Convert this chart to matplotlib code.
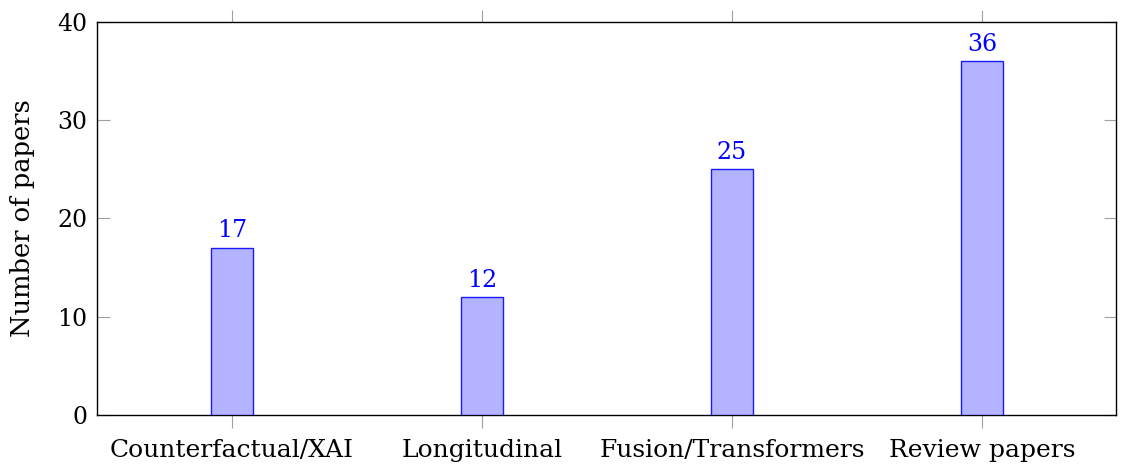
import matplotlib
matplotlib.use("Agg")
import matplotlib.pyplot as plt
import numpy as np

categories = ["Counterfactual/XAI", "Longitudinal", "Fusion/Transformers", "Review papers"]
values = [17, 12, 25, 36]
yticks = [0, 10, 20, 30, 40]

plt.rcParams['font.family'] = ['DejaVu Serif']

fig = plt.figure(figsize=(11.27, 4.74), dpi=100)
ax = fig.add_axes([0.0861, 0.1245, 0.9041, 0.8291])

x = np.arange(len(categories))
bars = ax.bar(x, values, width=0.168, color='#b3b3ff', edgecolor='#1a1aff', linewidth=1.0, zorder=3)
for xi, v in zip(x, values):
    ax.annotate(str(v), (xi, v), xytext=(0, 4), textcoords='offset points',
                ha='center', va='bottom', color='#0000ff', fontsize=17)

ax.set_xlim(-0.54, 3.536)
ax.set_ylim(0, 40)
ax.set_yticks(yticks)
ax.set_xticks(x)
ax.set_xticklabels(categories)
ax.tick_params(axis='y', direction='in', left=True, right=True, length=9, color='#a0a0a0', width=0.8, labelsize=17, pad=7)
ax.tick_params(axis='x', direction='out', bottom=True, top=True, length=9, color='#a0a0a0', width=0.8, labelsize=18, pad=8)
for s in ax.spines.values():
    s.set_linewidth(1.0)
    s.set_color('black')
ax.set_ylabel("Number of papers", fontsize=18.5, labelpad=16)

fig.savefig("out.png", dpi=100)
